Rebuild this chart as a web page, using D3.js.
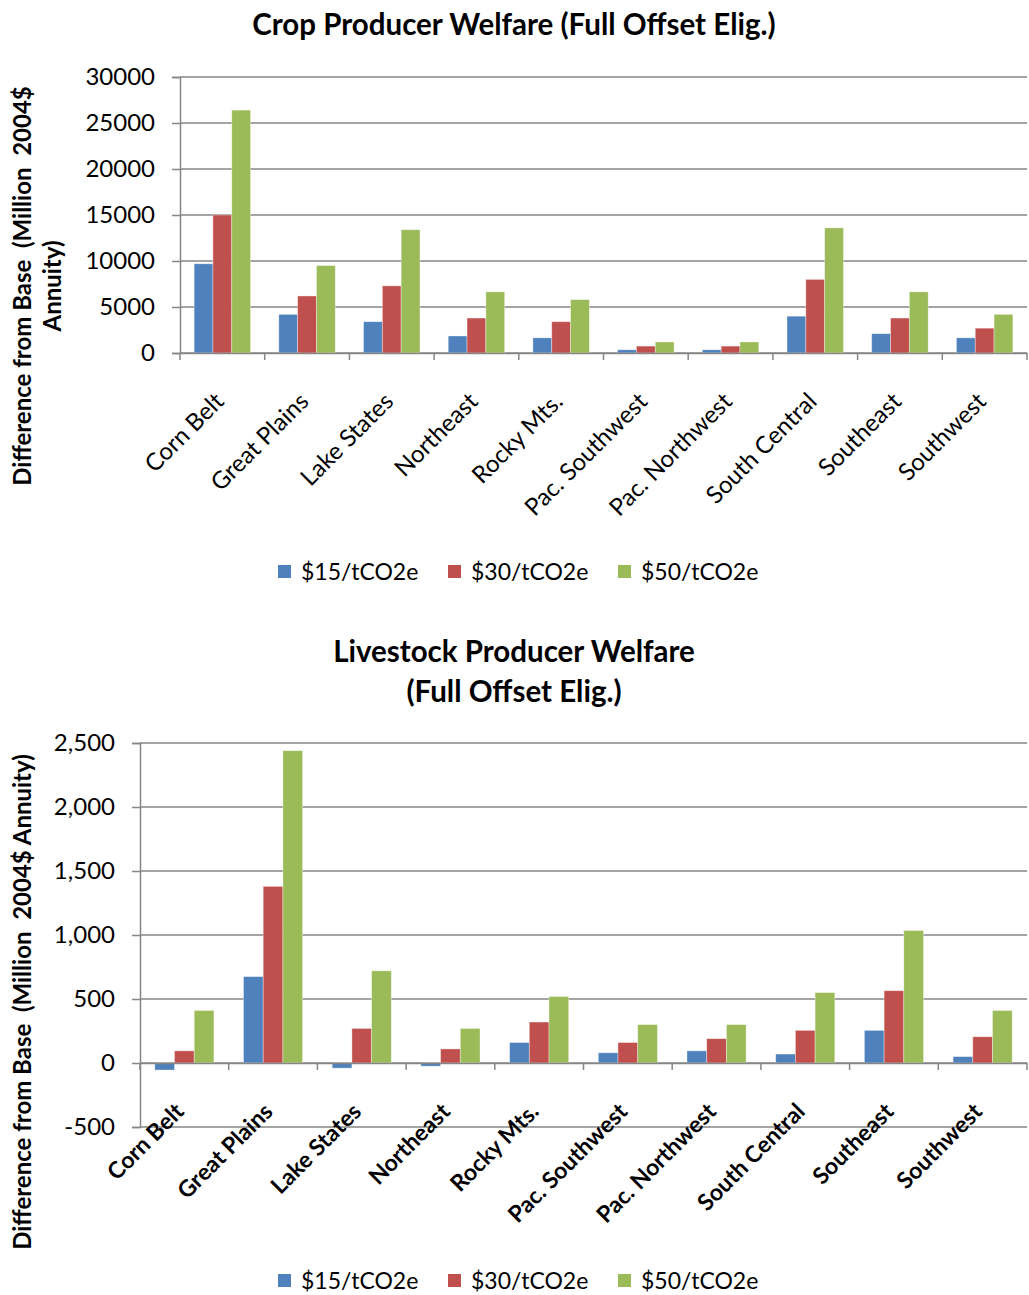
<!DOCTYPE html>
<html><head><meta charset="utf-8">
<script src="https://cdn.jsdelivr.net/npm/d3@7"></script>
<style>body{margin:0;background:#fff;} svg{display:block;font-family:Lato, "Open Sans", sans-serif;} .pre{white-space:pre;}</style>
</head><body><svg id="c" width="1029" height="1295"></svg>
<script>
const categories = ["Corn Belt","Great Plains","Lake States","Northeast","Rocky Mts.","Pac. Southwest","Pac. Northwest","South Central","Southeast","Southwest"];
const seriesNames = ["$15/tCO2e","$30/tCO2e","$50/tCO2e"];
const colors = ["#4F81BD","#C0504D","#9BBB59"];
const crop15 = [9700,4200,3400,1850,1650,350,350,4000,2100,1650];
const crop30 = [15000,6200,7300,3800,3400,750,750,8000,3800,2700];
const crop50 = [26400,9500,13400,6650,5800,1200,1200,13600,6650,4200];
const live15 = [-55,675,-40,-25,160,80,95,70,255,50];
const live30 = [95,1380,270,110,320,160,190,255,565,205];
const live50 = [410,2440,720,270,520,300,300,550,1035,410];
const cropTicks = [0,5000,10000,15000,20000,25000,30000];
const liveTicks = [-500,0,500,1000,1500,2000,2500];

const svg = d3.select("#c");
const gridColor = "#868686";

function chart(o){
  const g = svg.append("g");
  const x = d3.scaleBand().domain(categories).range([o.x0,o.x1]);
  const y = d3.scaleLinear().domain(o.domain).range([o.yb,o.yt]);
  g.selectAll("line.grid").data(o.ticks).join("line")
    .attr("x1",o.x0).attr("x2",o.x1).attr("y1",d=>y(d)).attr("y2",d=>y(d))
    .attr("stroke",gridColor).attr("stroke-width",1.5);
  const ya = d3.axisLeft(y).tickValues(o.ticks).tickSize(8).tickPadding(17).tickFormat(o.fmt);
  const yg = g.append("g").attr("transform",`translate(${o.x0},0)`).call(ya);
  yg.select(".domain").attr("stroke",gridColor).attr("stroke-width",1.5);
  yg.selectAll(".tick line").attr("stroke",gridColor).attr("stroke-width",1.5);
  yg.selectAll(".tick text").attr("font-size",24).attr("fill","#000").attr("font-family","Lato, sans-serif");
  const inner = d3.scaleBand().domain([0,1,2]).range([0,x.bandwidth()]).paddingOuter(0.75).paddingInner(0);
  o.series.forEach((vals,si)=>{
    g.selectAll(null).data(vals).join("rect")
      .attr("x",(d,i)=>x(categories[i])+inner(si))
      .attr("width",inner.bandwidth())
      .attr("y",d=>y(Math.max(0,d)))
      .attr("height",d=>Math.abs(y(d)-y(0)))
      .attr("fill",colors[si])
      .attr("stroke","rgba(255,255,255,0.45)").attr("stroke-width",0.8);
  });
  const xa = d3.axisBottom(x).tickSize(0).tickFormat("");
  const xg = g.append("g").attr("transform",`translate(0,${y(0)})`).call(xa);
  xg.select(".domain").attr("stroke",gridColor).attr("stroke-width",1.5);
  const bounds = [o.x0].concat(categories.map(c=>x(c)+x.bandwidth()));
  g.selectAll(null).data(bounds).join("line")
    .attr("x1",d=>d).attr("x2",d=>d).attr("y1",y(0)).attr("y2",y(0)+7)
    .attr("stroke",gridColor).attr("stroke-width",1.5);
  g.selectAll(null).data(categories).join("text")
    .attr("transform",d=>`translate(${x(d)+x.bandwidth()/2+o.ldx},${y(0)+o.ldy}) rotate(-45)`)
    .attr("text-anchor","end").attr("font-size",o.lbold?23:24).attr("font-weight",o.lbold?"bold":"normal")
    .text(d=>d);
  const lg = g.append("g");
  const lx = [278,448,618];
  seriesNames.forEach((s,i)=>{
    lg.append("rect").attr("x",lx[i]).attr("y",o.legY-7).attr("width",13).attr("height",13).attr("fill",colors[i]);
    lg.append("text").attr("x",lx[i]+23).attr("y",o.legY).attr("dy","0.35em").attr("font-size",23).text(s);
  });
}

chart({x0:180,x1:1027,yb:353,yt:77,domain:[0,30000],ticks:cropTicks,fmt:d3.format("d"),
  series:[crop15,crop30,crop50],ldx:3,ldy:50,lbold:false,legY:572});
chart({x0:140,x1:1027,yb:1127,yt:743,domain:[-500,2500],ticks:liveTicks,fmt:d=>d3.format(",")(d).replace("\u2212","-"),
  series:[live15,live30,live50],ldx:1,ldy:50,lbold:true,legY:1281});

svg.append("text").attr("x",514).attr("y",35).attr("text-anchor","middle").attr("font-size",29.5).attr("font-weight","bold").text("Crop Producer Welfare (Full Offset Elig.)");
svg.append("text").attr("x",514).attr("y",662).attr("text-anchor","middle").attr("font-size",29.5).attr("font-weight","bold").text("Livestock Producer Welfare");
svg.append("text").attr("x",514).attr("y",702).attr("text-anchor","middle").attr("font-size",29.5).attr("font-weight","bold").text("(Full Offset Elig.)");
const t1 = svg.append("text").attr("transform","rotate(-90)").attr("class","pre").attr("font-size",24).attr("font-weight","bold").attr("text-anchor","middle");
t1.append("tspan").attr("x",-286).attr("y",31).text("Difference from Base  (Million  2004$");
t1.append("tspan").attr("x",-286).attr("y",61).text("Annuity)");
svg.append("text").attr("transform","rotate(-90)").attr("class","pre").attr("x",-1002).attr("y",31).attr("text-anchor","middle").attr("font-size",24).attr("font-weight","bold").text("Difference from Base  (Million  2004$ Annuity)");
</script></body></html>
